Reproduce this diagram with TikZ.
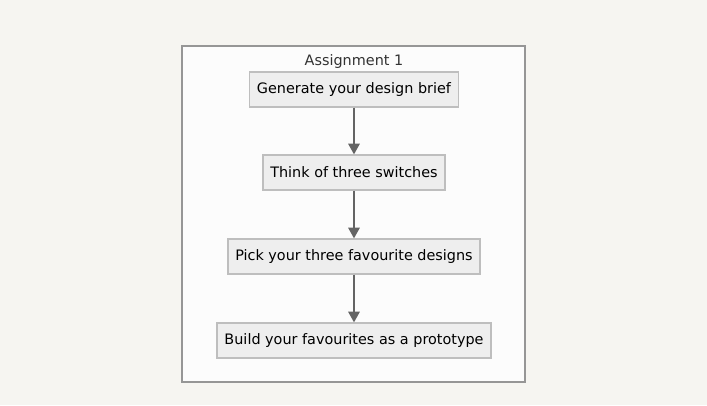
\documentclass[tikz,border=0pt]{standalone}
\usepackage{fontspec}
\setmainfont{DejaVu Sans}
\usetikzlibrary{arrows.meta}
\definecolor{pagebg}{RGB}{246,245,241}
\definecolor{groupbg}{RGB}{252,252,252}
\definecolor{groupline}{RGB}{150,150,150}
\definecolor{stepfill}{RGB}{238,238,238}
\definecolor{stepline}{RGB}{190,190,190}
\definecolor{flowline}{RGB}{100,100,100}
\tikzset{
  stepbox/.style={draw=stepline, fill=stepfill, line width=1.2pt, minimum height=26pt,
    inner xsep=5.5pt, font=\fontsize{10.8}{12}\selectfont, text=black},
  flow/.style={-{Triangle[length=8pt,width=8.5pt]}, draw=flowline, line width=1.4pt}
}
\begin{document}
\begin{tikzpicture}[x=0.75pt, y=-0.75pt]
    \useasboundingbox[fill=pagebg] (0,0) rectangle (707,405);
    \draw[groupline, fill=groupbg, line width=1pt] (182,46) rectangle (525,382);
    \node[text=black!80, font=\fontsize{10.8}{12}\selectfont] (title) at (354,62) {Assignment 1};
    \node[stepbox] (brief) at (354,89.5) {Generate your design brief};
    \node[stepbox] (switches) at (354,172.5) {Think of three switches};
    \node[stepbox] (pick) at (354,256.5) {Pick your three favourite designs};
    \node[stepbox] (build) at (354,340.5) {Build your favourites as a prototype};
    \draw[flow] (brief) -- (switches);
    \draw[flow] (switches) -- (pick);
    \draw[flow] (pick) -- (build);
\end{tikzpicture}
\end{document}
